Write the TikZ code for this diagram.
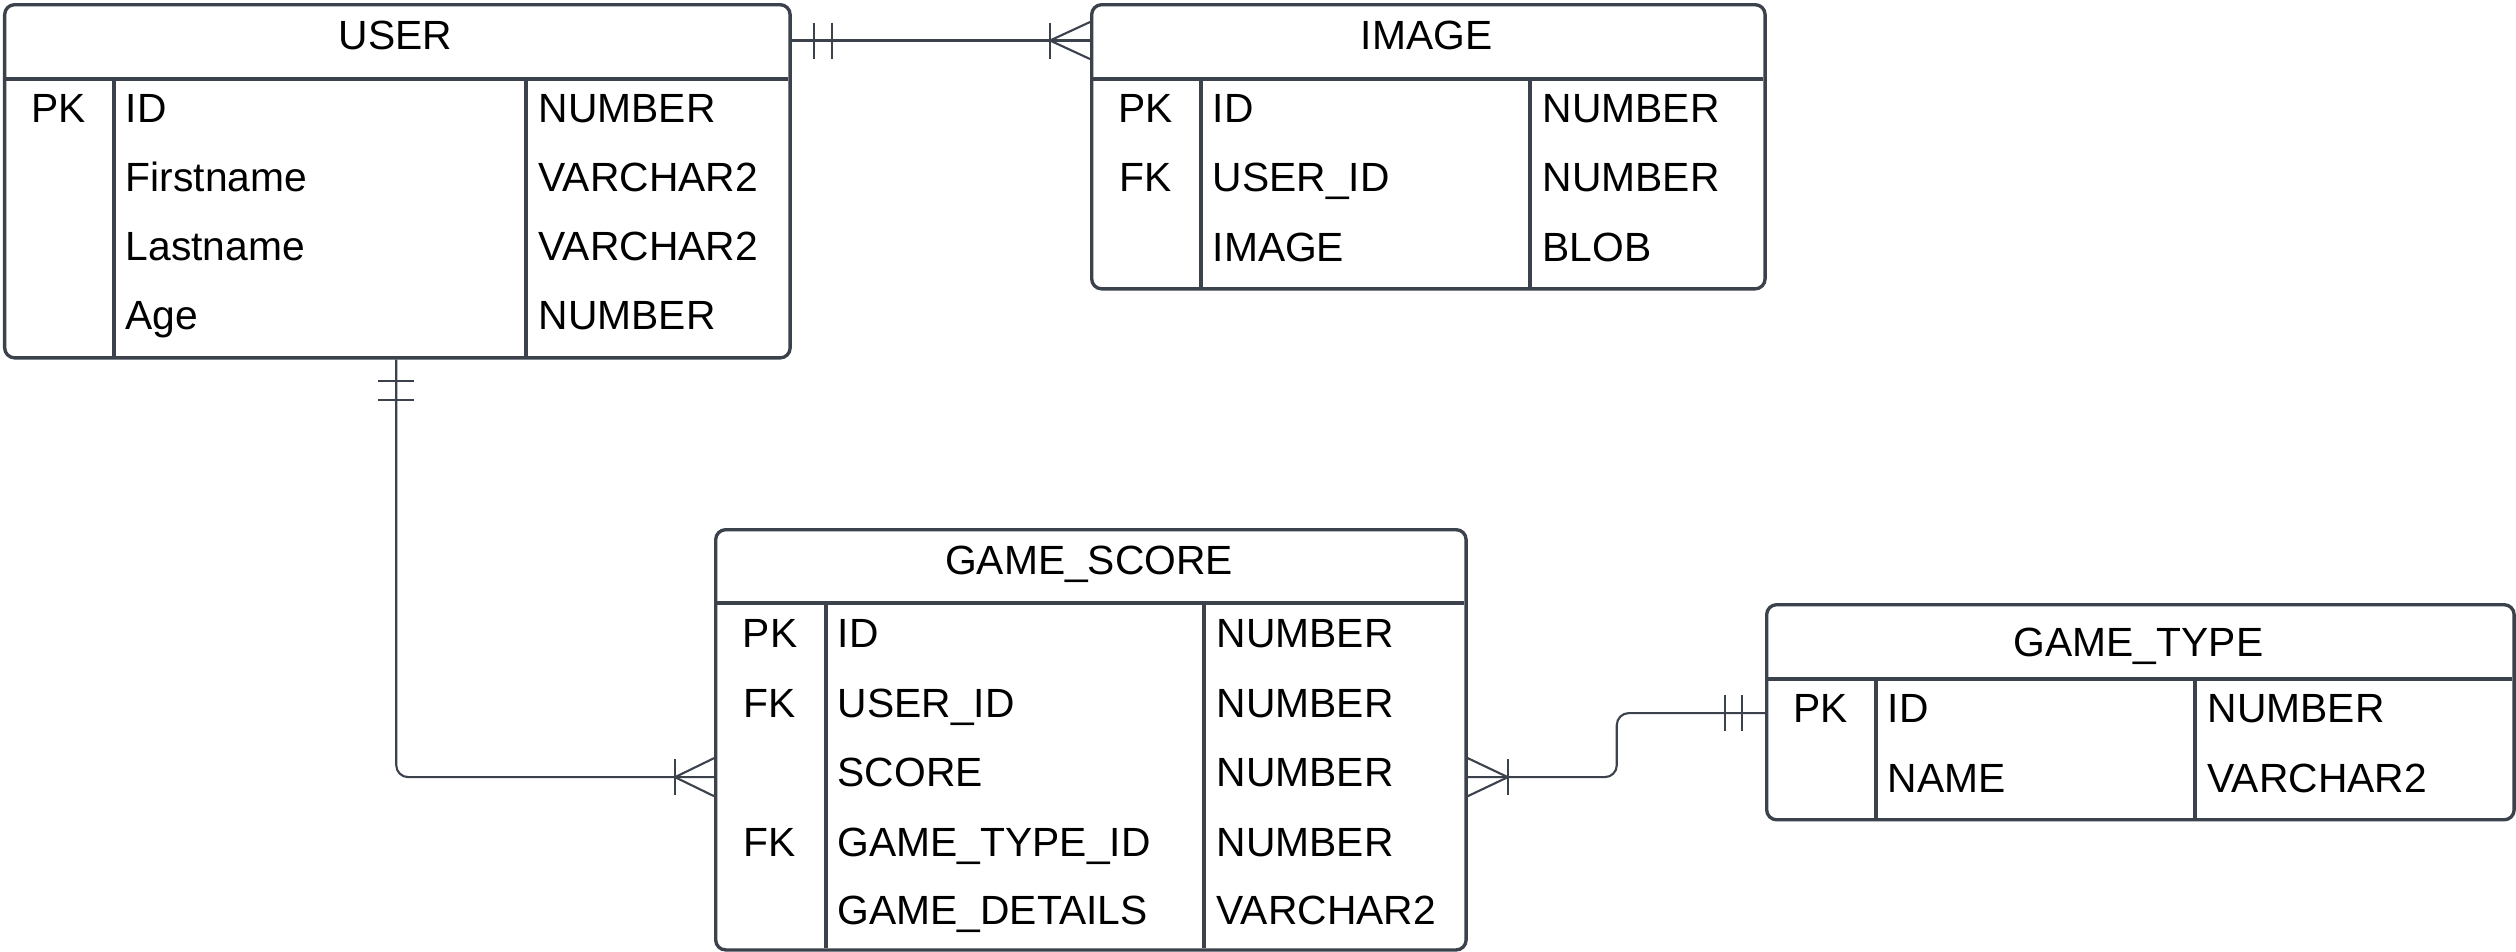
\documentclass[tikz,border=0pt]{standalone}
\usepackage{fontspec}
\setmainfont{Liberation Sans}
\usetikzlibrary{calc}
\definecolor{ln}{RGB}{59,66,76}
\begin{document}
\begin{tikzpicture}[x=0.01cm,y=-0.01cm,
  entity/.style={draw=ln, line width=0.95pt, rounded corners=0.1cm, inner sep=0pt, anchor=north west},
  sep/.style={draw=ln, line width=0.95pt},
  conn/.style={draw=ln, line width=0.6pt},
  txt/.style={anchor=base west, inner sep=0pt, font=\fontsize{11.6}{13}\selectfont},
  key/.style={anchor=base, inner sep=0pt, font=\fontsize{11.6}{13}\selectfont},
  ttl/.style={anchor=base, inner sep=0pt, font=\fontsize{11.6}{13}\selectfont}]
\useasboundingbox (0,0) rectangle (2516,951);
\fill[white] (0,0) rectangle (2516,951);

% ---------- USER ----------
\node[entity, minimum width=7.85cm, minimum height=3.53cm] (user) at (3,3) {};
\draw[sep] (3,79) -- (788,79);
\draw[sep] (114,79) -- (114,356);
\draw[sep] (526,79) -- (526,356);
\node[ttl] (userT) at (395.5,49) {USER};
\node[key] (uK1) at (58.5,122) {PK};
\node[txt] (uN1) at (125,122) {ID};
\node[txt] (uY1) at (538,122) {NUMBER};
\node[txt] (uN2) at (125,191) {Firstname};
\node[txt] (uY2) at (538,191) {VARCHAR2};
\node[txt] (uN3) at (125,260) {Lastname};
\node[txt] (uY3) at (538,260) {VARCHAR2};
\node[txt] (uN4) at (125,329) {Age};
\node[txt] (uY4) at (538,329) {NUMBER};

% ---------- IMAGE ----------
\node[entity, minimum width=6.73cm, minimum height=2.84cm] (image) at (1090,3) {};
\draw[sep] (1090,79) -- (1763,79);
\draw[sep] (1201,79) -- (1201,287);
\draw[sep] (1530,79) -- (1530,287);
\node[ttl] (imageT) at (1426.5,49) {IMAGE};
\node[key] (iK1) at (1145.5,122) {PK};
\node[txt] (iN1) at (1212,122) {ID};
\node[txt] (iY1) at (1542,122) {NUMBER};
\node[key] (iK2) at (1145.5,191) {FK};
\node[txt] (iN2) at (1212,191) {USER\_ID};
\node[txt] (iY2) at (1542,191) {NUMBER};
\node[txt] (iN3) at (1212,261) {IMAGE};
\node[txt] (iY3) at (1542,261) {BLOB};

% ---------- GAME_SCORE ----------
\node[entity, minimum width=7.50cm, minimum height=4.20cm] (gs) at (714,528) {};
\draw[sep] (714,603) -- (1464,603);
\draw[sep] (826,603) -- (826,948);
\draw[sep] (1204,603) -- (1204,948);
\node[ttl] (gsT) at (1089,574) {GAME\_SCORE};
\node[key] (sK1) at (770,647) {PK};
\node[txt] (sN1) at (837,647) {ID};
\node[txt] (sY1) at (1216,647) {NUMBER};
\node[key] (sK2) at (770,717) {FK};
\node[txt] (sN2) at (837,717) {USER\_ID};
\node[txt] (sY2) at (1216,717) {NUMBER};
\node[txt] (sN3) at (837,786) {SCORE};
\node[txt] (sY3) at (1216,786) {NUMBER};
\node[key] (sK4) at (770,856) {FK};
\node[txt] (sN4) at (837,856) {GAME\_TYPE\_ID};
\node[txt] (sY4) at (1216,856) {NUMBER};
\node[txt] (sN5) at (837,924) {GAME\_DETAILS};
\node[txt] (sY5) at (1216,924) {VARCHAR2};

% ---------- GAME_TYPE ----------
\node[entity, minimum width=7.47cm, minimum height=2.15cm] (gt) at (1765,603) {};
\draw[sep] (1765,679) -- (2512,679);
\draw[sep] (1876,679) -- (1876,818);
\draw[sep] (2195,679) -- (2195,818);
\node[ttl] (gtT) at (2138.5,656) {GAME\_TYPE};
\node[key] (tK1) at (1820.5,722) {PK};
\node[txt] (tN1) at (1887,722) {ID};
\node[txt] (tY1) at (2207,722) {NUMBER};
\node[txt] (tN2) at (1887,792) {NAME};
\node[txt] (tY2) at (2207,792) {VARCHAR2};

% ---------- USER -- IMAGE ----------
\coordinate (c1a) at ([yshift=-0.375cm]user.north east);
\coordinate (c1b) at ([yshift=-0.375cm]image.north west);
\draw[conn] (c1a) -- (c1b);
\draw[conn] ($(c1a)+(22,-18)$) -- ($(c1a)+(22,18)$);
\draw[conn] ($(c1a)+(40,-18)$) -- ($(c1a)+(40,18)$);
\draw[conn] ($(c1b)+(0,-18.5)$) -- ($(c1b)+(-40,0)$) -- ($(c1b)+(0,18.5)$);
\draw[conn] ($(c1b)+(-40,-18)$) -- ($(c1b)+(-40,18)$);

% ---------- USER -- GAME_SCORE ----------
\coordinate (c2a) at ([xshift=3.93cm]user.south west);
\coordinate (c2b) at ([yshift=-2.49cm]gs.north west);
\draw[conn, rounded corners=0.12cm] (c2a) |- (c2b);
\draw[conn] ($(c2a)+(-18,21)$) -- ($(c2a)+(18,21)$);
\draw[conn] ($(c2a)+(-18,40)$) -- ($(c2a)+(18,40)$);
\draw[conn] ($(c2b)+(0,-19)$) -- ($(c2b)+(-39,0)$) -- ($(c2b)+(0,19)$);
\draw[conn] ($(c2b)+(-39,-18)$) -- ($(c2b)+(-39,18)$);

% ---------- GAME_SCORE -- GAME_TYPE ----------
\coordinate (c3a) at ([yshift=-2.49cm]gs.north east);
\coordinate (c3b) at ([yshift=-1.10cm]gt.north west);
\draw[conn, rounded corners=0.12cm] (c3a) -- ++(149,0) |- (c3b);
\draw[conn] ($(c3a)+(0,-19)$) -- ($(c3a)+(40,0)$) -- ($(c3a)+(0,19)$);
\draw[conn] ($(c3a)+(40,-18)$) -- ($(c3a)+(40,18)$);
\draw[conn] ($(c3b)+(-40,-18)$) -- ($(c3b)+(-40,18)$);
\draw[conn] ($(c3b)+(-23,-18)$) -- ($(c3b)+(-23,18)$);
\end{tikzpicture}
\end{document}
